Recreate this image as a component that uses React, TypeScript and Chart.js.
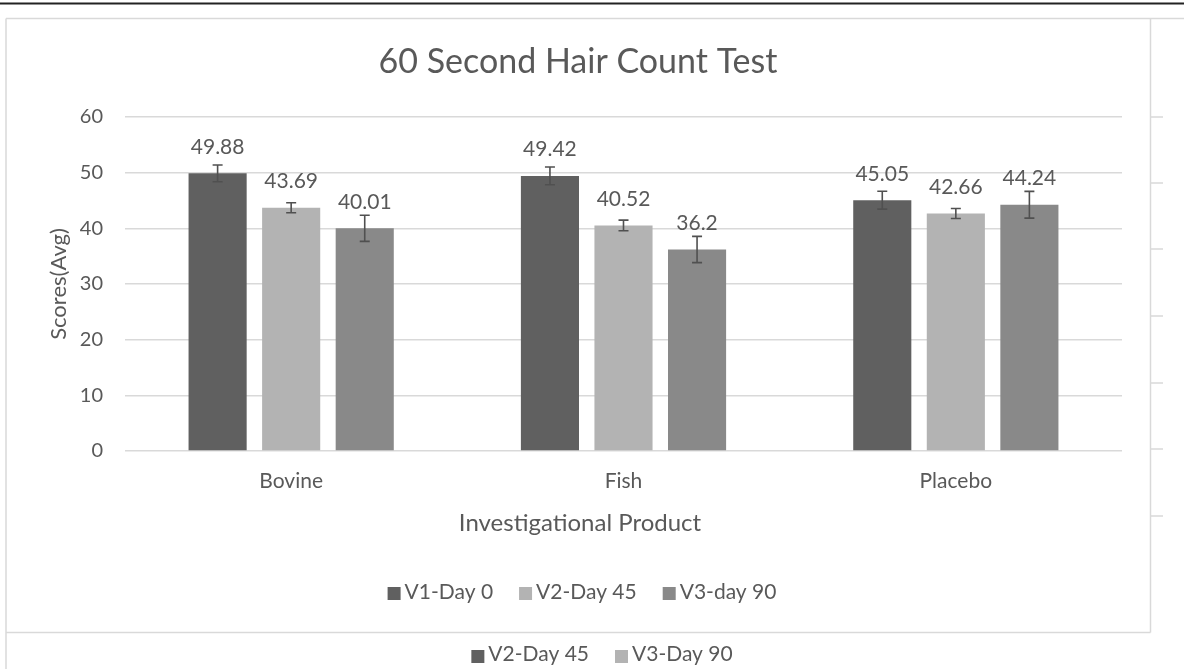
import React, { useEffect, useRef } from "react";
import { Chart, registerables } from "chart.js";

Chart.register(...registerables);

// ---------- data ----------
const categories = ["Bovine", "Fish", "Placebo"];
const seriesLabels = ["V1-Day 0", "V2-Day 45", "V3-day 90"];
const v1Values = [49.88, 49.42, 45.05];
const v2Values = [43.69, 40.52, 42.66];
const v3Values = [40.01, 36.2, 44.24];
const v1Errors = [1.5, 1.6, 1.6];
const v2Errors = [0.9, 0.95, 0.9];
const v3Errors = [2.35, 2.36, 2.4];
const seriesColors = ["#606060", "#b3b3b3", "#898989"];
const yMin = 0;
const yMax = 60;
const yStep = 10;
const chartTitle = "60 Second Hair Count Test";
const xAxisTitle = "Investigational Product";
const yAxisTitle = "Scores(Avg)";
const extraLegendLabels = ["V2-Day 45", "V3-Day 90"];
const extraLegendColors = ["#606060", "#b3b3b3"];

const FONT = "Lato, 'Open Sans', sans-serif";
const TEXT = "#595959";
const GRID = "#d9d9d9";

const errorsBySeries = [v1Errors, v2Errors, v3Errors];

// error bars + value labels
const errorBarPlugin = {
  id: "errorBars",
  afterDatasetsDraw(chart: any) {
    const { ctx } = chart;
    const yScale = chart.scales.y;
    ctx.save();
    chart.data.datasets.forEach((ds: any, i: number) => {
      const meta = chart.getDatasetMeta(i);
      const errs = errorsBySeries[i];
      meta.data.forEach((bar: any, j: number) => {
        const v = ds.data[j];
        const e = errs[j];
        const yt = yScale.getPixelForValue(v + e);
        const yb = yScale.getPixelForValue(v - e);
        ctx.strokeStyle = "#505050";
        ctx.lineWidth = 1.6;
        ctx.beginPath();
        ctx.moveTo(bar.x, yt);
        ctx.lineTo(bar.x, yb);
        ctx.moveTo(bar.x - 5, yt);
        ctx.lineTo(bar.x + 5, yt);
        ctx.moveTo(bar.x - 5, yb);
        ctx.lineTo(bar.x + 5, yb);
        ctx.stroke();
        ctx.fillStyle = TEXT;
        ctx.font = `21px ${FONT}`;
        ctx.textAlign = "center";
        ctx.textBaseline = "alphabetic";
        ctx.fillText(String(v), bar.x, bar.y - 19.5);
      });
    });
    ctx.restore();
  },
};

function drawLegendRow(
  ctx: CanvasRenderingContext2D,
  labels: string[],
  colors: string[],
  centerX: number,
  squareTop: number,
  baseline: number
) {
  const box = 13;
  const gapText = 4;
  const gapItem = 26;
  ctx.font = `21px ${FONT}`;
  const widths = labels.map((l) => ctx.measureText(l).width);
  const total =
    widths.reduce((a, w) => a + box + gapText + w, 0) + gapItem * (labels.length - 1);
  let x = centerX - total / 2;
  labels.forEach((l, i) => {
    ctx.fillStyle = colors[i];
    ctx.fillRect(x, squareTop, box, box);
    ctx.fillStyle = TEXT;
    ctx.textAlign = "left";
    ctx.textBaseline = "alphabetic";
    ctx.fillText(l, x + box + gapText, baseline);
    x += box + gapText + widths[i] + gapItem;
  });
}

const decorPlugin = {
  id: "decor",
  afterDraw(chart: any) {
    const { ctx } = chart;
    const W = chart.width;
    const H = chart.height;
    ctx.save();
    // top dark rule
    ctx.strokeStyle = "#222222";
    ctx.lineWidth = 2;
    ctx.beginPath();
    ctx.moveTo(0, 3.5);
    ctx.lineTo(W, 3.5);
    ctx.stroke();
    // chart frame
    ctx.strokeStyle = GRID;
    ctx.lineWidth = 1.5;
    ctx.beginPath();
    ctx.moveTo(6, 18.5);
    ctx.lineTo(W, 18.5);
    ctx.moveTo(6, 18.5);
    ctx.lineTo(6, H);
    ctx.moveTo(1150.5, 18.5);
    ctx.lineTo(1150.5, 632.5);
    ctx.moveTo(6, 632.5);
    ctx.lineTo(1150.5, 632.5);
    // neighbouring chart's tick stubs on the right
    [117, 183, 249, 316, 383, 449, 516].forEach((y) => {
      ctx.moveTo(1150.5, y);
      ctx.lineTo(1163, y);
    });
    ctx.stroke();

    // title
    ctx.fillStyle = TEXT;
    ctx.font = `34px ${FONT}`;
    ctx.textAlign = "center";
    ctx.textBaseline = "alphabetic";
    ctx.fillText(chartTitle, 578, 73);

    // x axis title
    ctx.font = `24px ${FONT}`;
    ctx.fillText(xAxisTitle, 580, 531);

    // legend from datasets
    const labels = chart.data.datasets.map((d: any) => d.label);
    const colors = chart.data.datasets.map((d: any) => d.backgroundColor);
    drawLegendRow(ctx, labels, colors, 582, 587, 599);

    // second legend (neighbouring chart)
    drawLegendRow(ctx, extraLegendLabels, extraLegendColors, 602, 650, 661);
    ctx.restore();
  },
};

export default function App() {
  const ref = useRef<HTMLCanvasElement | null>(null);

  useEffect(() => {
    if (!ref.current) return;
    Chart.defaults.font.family = FONT;
    Chart.defaults.color = TEXT;
    const datasets = [v1Values, v2Values, v3Values].map((vals, i) => ({
      label: seriesLabels[i],
      data: vals,
      backgroundColor: seriesColors[i],
      borderWidth: 0,
      categoryPercentage: 0.664,
      barPercentage: 0.79,
    }));
    const chart = new Chart(ref.current, {
      type: "bar",
      data: { labels: categories, datasets },
      options: {
        responsive: false,
        animation: false,
        layout: { padding: { top: 117, left: 0, right: 62, bottom: 0 } },
        plugins: {
          legend: { display: false },
          title: { display: false },
          tooltip: { enabled: false },
        },
        scales: {
          x: {
            grid: { display: false, drawTicks: false },
            border: { display: false },
            ticks: { font: { size: 21, family: FONT }, color: TEXT, padding: 18 },
            afterFit: (s: any) => {
              s.height = 218;
            },
          },
          y: {
            min: yMin,
            max: yMax,
            grid: { color: GRID, lineWidth: 1.4, drawTicks: false },
            border: { display: false },
            ticks: {
              stepSize: yStep,
              font: { size: 20, family: FONT },
              color: TEXT,
              padding: 22,
            },
            title: {
              display: true,
              text: yAxisTitle,
              font: { size: 22, family: FONT },
              color: TEXT,
              padding: { top: 46, bottom: 0 },
            },
            afterFit: (s: any) => {
              s.width = 125;
            },
          },
        },
      },
      plugins: [errorBarPlugin, decorPlugin],
    });
    return () => chart.destroy();
  }, []);

  return (
    <div
      style={{
        position: "fixed",
        left: 0,
        top: 0,
        width: 1184,
        height: 669,
        background: "#fff",
      }}
    >
      <canvas ref={ref} width={1184} height={669} style={{ display: "block" }} />
    </div>
  );
}
